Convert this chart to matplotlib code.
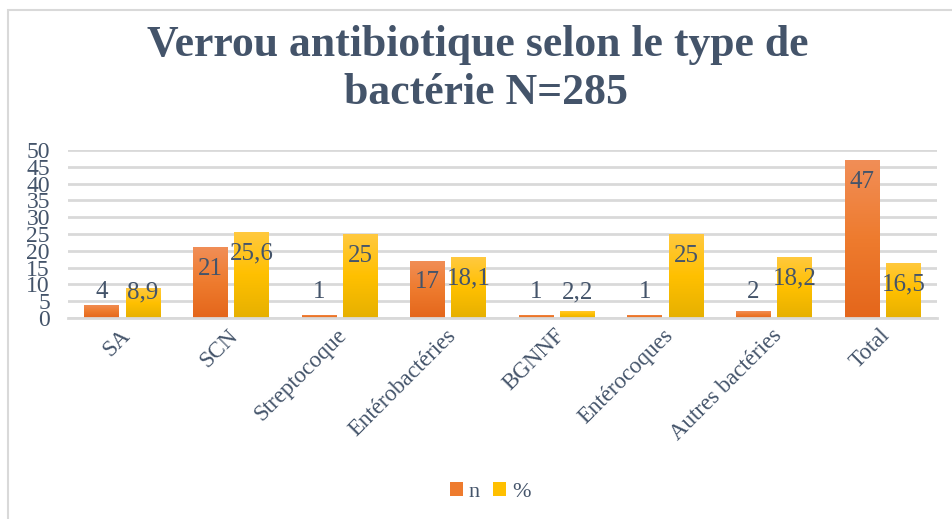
import numpy as np
import matplotlib
matplotlib.use('Agg')
import matplotlib.pyplot as plt
import matplotlib.transforms as mtransforms
from matplotlib.patches import Rectangle, Patch
from matplotlib.colors import LinearSegmentedColormap

plt.rcParams['font.family'] = ['Liberation Serif', 'DejaVu Serif']

# Data
categories = ['SA', 'SCN', 'Streptocoque', 'Entérobactéries', 'BGNNF',
              'Entérocoques', 'Autres bactéries', 'Total']
n_values = [4, 21, 1, 17, 1, 1, 2, 47]
pct_values = [8.9, 25.6, 25, 18.1, 2.2, 25, 18.2, 16.5]
y_ticks = [0, 5, 10, 15, 20, 25, 30, 35, 40, 45, 50]

TEXT = '#44546A'
GRID = '#D9D9D9'
orange_cmap = LinearSegmentedColormap.from_list('og', ['#E4661B', '#EE7B2E', '#F18E57'])
yellow_cmap = LinearSegmentedColormap.from_list('yg', ['#E6B000', '#FFC000', '#FFC940'])

fig = plt.figure(figsize=(9.53, 5.19), dpi=100)
ax = fig.add_axes([68 / 953, 1 - 318 / 519, (937 - 68) / 953, 168 / 519])

# chart frame (Excel style)
fig.patches.append(Rectangle((8 / 953, -0.1), 1.2, 0.1 + (519 - 10) / 519,
                             transform=fig.transFigure, fill=False,
                             edgecolor=GRID, linewidth=1.5))

x = np.arange(len(categories))
width = 0.32
offset = 0.19
grad = np.linspace(0, 1, 256).reshape(-1, 1)


def gradient_bars(xpos, values, cmap, solid):
    bars = ax.bar(xpos, values, width, color=solid, zorder=2)
    for b in bars:
        x0, y0 = b.get_x(), b.get_y()
        im = ax.imshow(grad, cmap=cmap, aspect='auto', origin='lower',
                       extent=[x0, x0 + b.get_width(), y0, y0 + b.get_height()],
                       zorder=2.1)
        im.set_clip_path(b)
    return bars


gradient_bars(x - offset, n_values, orange_cmap, '#ED7D31')
gradient_bars(x + offset, pct_values, yellow_cmap, '#FFC000')


def fmt(v):
    return f'{v:g}'.replace('.', ',')


# data labels: inside the bar top, pushed above short bars
for xi, v in zip(x - offset, n_values):
    ax.text(xi, max(v - 6.4, 7.7), fmt(v), ha='center', va='center',
            fontsize=18, color=TEXT, zorder=3)
for xi, v in zip(x + offset, pct_values):
    ax.text(xi, max(v - 6.4, 7.7), fmt(v), ha='center', va='center',
            fontsize=18, color=TEXT, zorder=3)

ax.set_xlim(-0.5, len(categories) - 0.5)
ax.set_ylim(0, 50)
ax.set_yticks(y_ticks)
ax.set_yticklabels([str(t) for t in y_ticks], fontsize=17, color=TEXT)
ax.set_xticks(x)
ax.set_xticklabels(categories, fontsize=16.5, color=TEXT, rotation=45,
                   ha='right', va='top', rotation_mode='anchor')
ax.tick_params(axis='both', length=0)
ax.tick_params(axis='y', pad=13)
ax.tick_params(axis='x', pad=5)
shift = mtransforms.ScaledTranslation(-3 / 100, 0, fig.dpi_scale_trans)
for lbl in ax.get_xticklabels():
    lbl.set_transform(lbl.get_transform() + shift)

ax.grid(axis='y', color=GRID, linewidth=2, zorder=0)
ax.set_axisbelow(True)
for s in ['top', 'right', 'left']:
    ax.spines[s].set_visible(False)
ax.spines['bottom'].set_color(GRID)
ax.spines['bottom'].set_linewidth(2)

fig.text(478 / 953, 1 - 45 / 519, 'Verrou antibiotique selon le type de',
         ha='center', va='center', fontsize=31.5, fontweight='bold', color=TEXT)
fig.text(486 / 953, 1 - 93 / 519, 'bactérie N=285',
         ha='center', va='center', fontsize=31.5, fontweight='bold', color=TEXT)

handles = [Patch(facecolor='#EE7B2E'), Patch(facecolor='#FFC000')]
fig.legend(handles, ['n', '%'], loc='center', bbox_to_anchor=(490 / 953, 1 - 492 / 519),
           ncol=2, frameon=False, fontsize=16, handlelength=0.6, handleheight=0.6,
           handletextpad=0.25, columnspacing=0.6, labelcolor=TEXT)

fig.savefig('out.png', dpi=100)
